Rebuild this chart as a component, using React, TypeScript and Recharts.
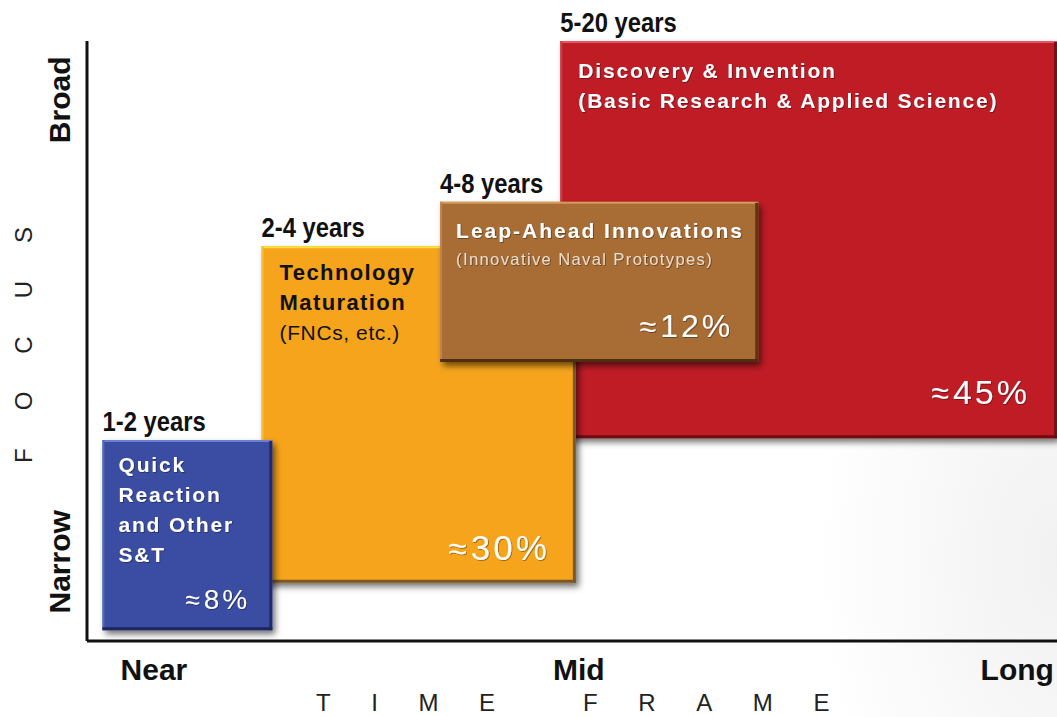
import React from "react";
import { ComposedChart, XAxis, YAxis, ReferenceArea, Label } from "recharts";

// ---- data (drawing order: back to front) ----
const blockKeys = ["discovery", "maturation", "leapAhead", "quickReaction"];
const timeLabels = ["5-20 years", "2-4 years", "4-8 years", "1-2 years"];
const titleLines = [
  ["Discovery & Invention", "(Basic Research & Applied Science)"],
  ["Technology", "Maturation", "(FNCs, etc.)"],
  ["Leap-Ahead Innovations", "(Innovative Naval Prototypes)"],
  ["Quick", "Reaction", "and Other", "S&T"],
];
const shares = [45, 30, 12, 8];
const timeStart = [48.8, 18.0, 36.4, 1.6];
const timeEnd = [100, 50.4, 69.2, 19.1];
const focusStart = [33.8, 9.7, 46.5, 1.8];
const focusEnd = [100, 65.8, 73.2, 33.5];

const xTickValues = [6.9, 50.7, 95.9];
const xTickLabels = ["Near", "Mid", "Long"];
const yTickValues = [13.2, 90.2];
const yTickLabels = ["Narrow", "Broad"];

const chartData = blockKeys.map((k, i) => ({
  key: k,
  x1: timeStart[i],
  x2: timeEnd[i],
  y1: focusStart[i],
  y2: focusEnd[i],
}));

// ---- styles ----
const SANS = "'Liberation Sans', Arial, Helvetica, sans-serif";

type LineStyle = { size: number; weight: number; color: string; spacing: number };
type BlockStyle = {
  fill: string;
  top: string;
  left: string;
  right: string;
  bottom: string;
  textX: number;
  textY: number[];
  lines: LineStyle[];
  pctRight: number;
  pctBottom: number;
  pctSize: number;
};

const W = "#ffffff";
const blockStyles: BlockStyle[] = [
  {
    fill: "#bf1e27",
    top: "#e4566a",
    left: "#d23a46",
    right: "#7a0f16",
    bottom: "#6e0c12",
    textX: 18,
    textY: [37, 67],
    lines: [
      { size: 21, weight: 700, color: W, spacing: 1.8 },
      { size: 21, weight: 700, color: W, spacing: 1.8 },
    ],
    pctRight: 27,
    pctBottom: 34,
    pctSize: 34,
  },
  {
    fill: "#f5a41b",
    top: "#ffe23a",
    left: "#f9bb3a",
    right: "#7b5727",
    bottom: "#7b5727",
    textX: 18,
    textY: [34, 64, 94],
    lines: [
      { size: 22, weight: 700, color: "#111", spacing: 1.4 },
      { size: 22, weight: 700, color: "#111", spacing: 1.4 },
      { size: 21, weight: 400, color: "#111", spacing: 0.6 },
    ],
    pctRight: 26,
    pctBottom: 23,
    pctSize: 35,
  },
  {
    fill: "#a86d35",
    top: "#d59a5e",
    left: "#c08550",
    right: "#5a3515",
    bottom: "#4f2e12",
    textX: 16,
    textY: [36, 63],
    lines: [
      { size: 21, weight: 700, color: W, spacing: 2.0 },
      { size: 16.5, weight: 400, color: "#eadccb", spacing: 1.4 },
    ],
    pctRight: 25,
    pctBottom: 25,
    pctSize: 32,
  },
  {
    fill: "#3b4ea3",
    top: "#6c7fd0",
    left: "#5266bb",
    right: "#1f2a66",
    bottom: "#1c255c",
    textX: 16,
    textY: [32, 62, 92, 122],
    lines: [
      { size: 21, weight: 700, color: W, spacing: 1.8 },
      { size: 21, weight: 700, color: W, spacing: 1.8 },
      { size: 21, weight: 700, color: W, spacing: 1.8 },
      { size: 21, weight: 700, color: W, spacing: 1.8 },
    ],
    pctRight: 22,
    pctBottom: 21,
    pctSize: 28,
  },
];

const makeShape = (i: number) => (props: any) => {
  const { x, y, width, height } = props;
  const s = blockStyles[i];
  const fid = `shadow-${i}`;
  const tid = `tshadow-${i}`;
  const lightText = s.lines[0].color === W;
  return (
    <g>
      <defs>
        <filter id={fid} x="-10%" y="-10%" width="130%" height="130%">
          <feDropShadow dx="3" dy="4" stdDeviation="3" floodColor="#000" floodOpacity="0.55" />
        </filter>
        <filter id={tid} x="-5%" y="-20%" width="110%" height="150%">
          <feDropShadow dx="0.8" dy="0.8" stdDeviation="0.6" floodColor="#000" floodOpacity="0.45" />
        </filter>
      </defs>
      <rect x={x} y={y} width={width} height={height} fill={s.fill} filter={`url(#${fid})`} />
      <line x1={x} y1={y + 1} x2={x + width} y2={y + 1} stroke={s.top} strokeWidth={2} />
      <line x1={x + 1} y1={y} x2={x + 1} y2={y + height} stroke={s.left} strokeWidth={2} />
      <line x1={x + width - 1.5} y1={y + 1} x2={x + width - 1.5} y2={y + height} stroke={s.right} strokeWidth={3} />
      <line x1={x} y1={y + height - 1.5} x2={x + width} y2={y + height - 1.5} stroke={s.bottom} strokeWidth={3} />
      <text
        x={0}
        y={0}
        transform={`translate(${x}, ${y - 9}) scale(0.85, 1)`}
        fontFamily={SANS}
        fontWeight={700}
        fontSize={28}
        fill="#111"
      >
        {timeLabels[i]}
      </text>
      {titleLines[i].map((line, j) => {
        const ls = s.lines[j];
        return (
          <text
            key={j}
            x={x + s.textX}
            y={y + s.textY[j]}
            fontFamily={SANS}
            fontWeight={ls.weight}
            fontSize={ls.size}
            fill={ls.color}
            letterSpacing={ls.spacing}
            filter={lightText ? `url(#${tid})` : undefined}
          >
            {line}
          </text>
        );
      })}
      <text
        x={x + width - s.pctRight}
        y={y + height - s.pctBottom}
        textAnchor="end"
        fontFamily={SANS}
        fill="#fff"
        filter={`url(#${tid})`}
      >
        <tspan fontSize={s.pctSize * 0.95}>≈</tspan>
        <tspan dx={4} fontSize={s.pctSize} letterSpacing={3}>
          {shares[i]}%
        </tspan>
      </text>
    </g>
  );
};

const XTick = (props: any) => {
  const { x, y, payload } = props;
  const idx = xTickValues.indexOf(payload.value);
  return (
    <text x={x} y={y + 39} textAnchor="middle" fontFamily={SANS} fontWeight={700} fontSize={30} fill="#111">
      {xTickLabels[idx]}
    </text>
  );
};

const YTick = (props: any) => {
  const { x, y, payload } = props;
  const idx = yTickValues.indexOf(payload.value);
  const tx = x - 17;
  return (
    <text
      x={tx}
      y={y}
      transform={`rotate(-90, ${tx}, ${y})`}
      textAnchor="middle"
      fontFamily={SANS}
      fontWeight={700}
      fontSize={30}
      fill="#111"
    >
      {yTickLabels[idx]}
    </text>
  );
};

const TimeFrameLabel = (props: any) => {
  const vb = props.viewBox || { x: 87, y: 641, width: 970, height: 76 };
  const cx = vb.x + vb.width / 2;
  return (
    <text
      x={cx - 256}
      y={vb.y + 70}
      fontFamily={SANS}
      fontSize={24}
      fill="#222"
      letterSpacing={40.6}
    >
      TIME FRAME
    </text>
  );
};

const FocusLabel = (props: any) => {
  const vb = props.viewBox || { x: 0, y: 41, width: 87, height: 600 };
  const cy = vb.y + vb.height / 2;
  const tx = vb.x + 32;
  const ty = cy + 122;
  return (
    <text
      x={tx}
      y={ty}
      transform={`rotate(-90, ${tx}, ${ty})`}
      fontFamily={SANS}
      fontSize={24}
      fill="#222"
      letterSpacing={38}
    >
      FOCUS
    </text>
  );
};

export default function App() {
  return (
    <div
      style={{
        position: "absolute",
        left: 0,
        top: 0,
        width: 1057,
        height: 717,
        overflow: "hidden",
        background:
          "radial-gradient(ellipse 240px 400px at 100% 78%, #f1f1f1 0%, #f8f8f8 50%, #ffffff 100%)",
      }}
    >
      <ComposedChart
        width={1057}
        height={717}
        data={chartData}
        margin={{ top: 41, right: 0, bottom: 0, left: 0 }}
      >
        <XAxis
          type="number"
          dataKey="x1"
          domain={[0, 100]}
          ticks={xTickValues}
          interval={0}
          tick={<XTick />}
          tickLine={false}
          tickSize={0}
          tickMargin={0}
          height={76}
          axisLine={{ stroke: "#111", strokeWidth: 3 }}
          allowDataOverflow
        >
          <Label content={<TimeFrameLabel />} />
        </XAxis>
        <YAxis
          type="number"
          dataKey="y1"
          domain={[0, 100]}
          ticks={yTickValues}
          interval={0}
          tick={<YTick />}
          tickLine={false}
          tickSize={0}
          tickMargin={0}
          width={87}
          axisLine={{ stroke: "#111", strokeWidth: 3 }}
          allowDataOverflow
        >
          <Label content={<FocusLabel />} />
        </YAxis>
        {chartData.map((d, i) => (
          <ReferenceArea
            key={d.key}
            x1={d.x1}
            x2={d.x2}
            y1={d.y1}
            y2={d.y2}
            ifOverflow="visible"
            shape={makeShape(i)}
          />
        ))}
      </ComposedChart>
    </div>
  );
}
